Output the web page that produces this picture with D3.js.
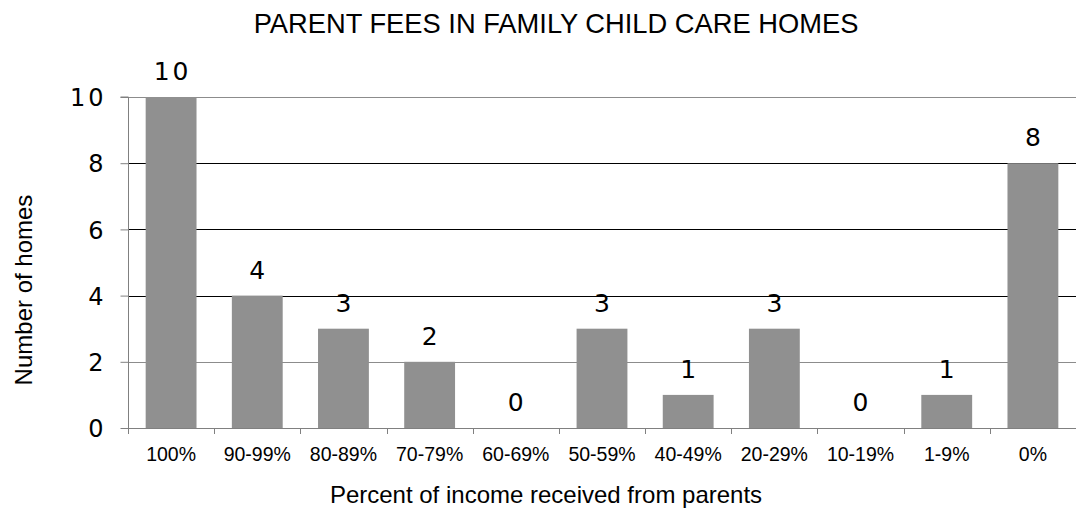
<!DOCTYPE html>
<html>
<head>
<meta charset="utf-8">
<script src="https://cdn.jsdelivr.net/npm/d3@7"></script>
<style>
  html, body { margin: 0; padding: 0; background: #fff; }
  svg { display: block; }
</style>
</head>
<body>
<svg id="chart" width="1076" height="508"></svg>
<script>
// Income bands and the number of homes in each
const categories = ["100%", "90-99%", "80-89%", "70-79%", "60-69%", "50-59%", "40-49%", "20-29%", "10-19%", "1-9%", "0%"];
const homes = [10, 4, 3, 2, 0, 3, 1, 3, 0, 1, 8];
const yTicks = [0, 2, 4, 6, 8, 10];

const svg = d3.select("#chart");
const margin = { left: 128, right: 0, top: 97, bottom: 80 };
const W = 1076, H = 508;

const x = d3.scaleBand()
  .domain(categories)
  .range([margin.left, W - margin.right])
  .paddingInner(0.41)
  .paddingOuter(0.205);

const y = d3.scaleLinear()
  .domain([0, 10])
  .range([428, margin.top]);

const digitFont = "DejaVu Sans, Verdana, sans-serif";
const textFont = "Liberation Sans, Arial, sans-serif";
const wideSpacing = 3; // extra spacing used for two-digit numbers

// Horizontal gridlines
svg.append("g")
  .selectAll("line")
  .data(yTicks.filter(d => d > 0))
  .join("line")
  .attr("x1", margin.left)
  .attr("x2", W)
  .attr("y1", d => Math.round(y(d)) + 0.5)
  .attr("y2", d => Math.round(y(d)) + 0.5)
  .attr("stroke", d => (d === 10 || d === 2) ? "#8c8c8c" : "#000")
  .attr("stroke-width", 1);

// Bars
svg.append("g")
  .selectAll("rect")
  .data(homes)
  .join("rect")
  .attr("x", (d, i) => x(categories[i]))
  .attr("width", x.bandwidth())
  .attr("y", d => y(d))
  .attr("height", d => y(0) - y(d))
  .attr("fill", "#909090");

// Value labels above bars
svg.append("g")
  .selectAll("text")
  .data(homes)
  .join("text")
  .attr("x", (d, i) => x(categories[i]) + x.bandwidth() / 2)
  .attr("y", d => y(d) - 17)
  .attr("dx", d => d >= 10 ? wideSpacing / 2 : 0)
  .attr("text-anchor", "middle")
  .attr("font-family", digitFont)
  .attr("font-size", 25)
  .attr("letter-spacing", d => d >= 10 ? wideSpacing + "px" : "0px")
  .attr("fill", "#000")
  .text(d => d);

// Y axis
const yAxis = d3.axisLeft(y)
  .tickValues(yTicks)
  .tickSize(8)
  .tickPadding(17)
  .tickFormat(d3.format("d"));

const gy = svg.append("g")
  .attr("transform", `translate(${margin.left + 0.5},0)`)
  .call(yAxis);
gy.select(".domain").attr("stroke", "#808080").attr("d", `M-8,${y(10)}H0V${y(0)}`);
gy.selectAll(".tick line").attr("stroke", "#808080");
gy.selectAll(".tick text")
  .attr("font-family", digitFont)
  .attr("font-size", 24)
  .attr("letter-spacing", d => d >= 10 ? wideSpacing + "px" : "0px")
  .attr("dx", d => d >= 10 ? wideSpacing : 0)
  .attr("dy", "0.36em")
  .attr("fill", "#000");

// X axis baseline and separators between bands
const step = x.step();
const sepX = d3.range(categories.length + 1).map(i => margin.left + i * step);
svg.append("line")
  .attr("x1", margin.left).attr("x2", W)
  .attr("y1", y(0) + 0.5).attr("y2", y(0) + 0.5)
  .attr("stroke", "#808080");
svg.append("g")
  .selectAll("line")
  .data(sepX)
  .join("line")
  .attr("x1", d => Math.round(d) + 0.5)
  .attr("x2", d => Math.round(d) + 0.5)
  .attr("y1", y(0))
  .attr("y2", y(0) + 6)
  .attr("stroke", "#808080");

// Category labels
svg.append("g")
  .selectAll("text")
  .data(categories)
  .join("text")
  .attr("x", d => x(d) + x.bandwidth() / 2)
  .attr("y", 461)
  .attr("text-anchor", "middle")
  .attr("font-family", textFont)
  .attr("font-size", 19.5)
  .attr("fill", "#000")
  .text(d => d);

// Titles
svg.append("text")
  .attr("x", 556).attr("y", 33)
  .attr("text-anchor", "middle")
  .attr("font-family", textFont)
  .attr("font-size", 27.3)
  .text("PARENT FEES IN FAMILY CHILD CARE HOMES");

svg.append("text")
  .attr("x", 546).attr("y", 503)
  .attr("text-anchor", "middle")
  .attr("font-family", textFont)
  .attr("font-size", 24)
  .text("Percent of income received from parents");

svg.append("text")
  .attr("transform", "translate(32,290) rotate(-90)")
  .attr("text-anchor", "middle")
  .attr("font-family", textFont)
  .attr("font-size", 24)
  .text("Number of homes");
</script>
</body>
</html>
